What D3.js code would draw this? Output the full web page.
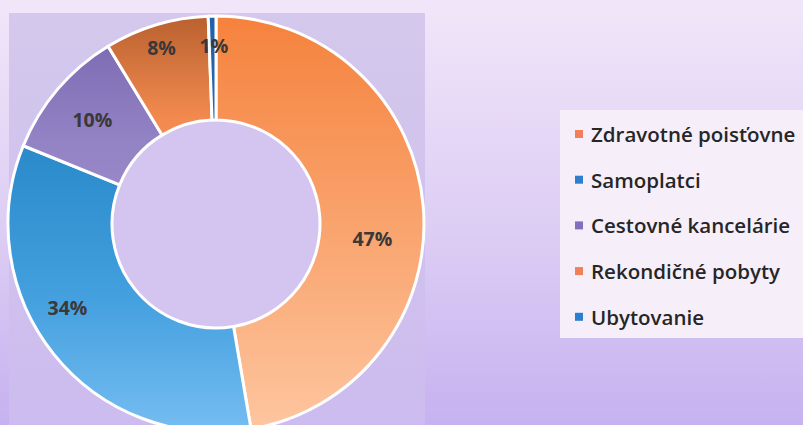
<!DOCTYPE html>
<html><head><meta charset="utf-8">
<script src="https://cdn.jsdelivr.net/npm/d3@7"></script>
<style>body{margin:0;padding:0;overflow:hidden}svg{display:block}</style>
</head><body>
<svg id="chart" width="803" height="425"></svg>
<script>
const categories = ["Zdravotné poisťovne","Samoplatci","Cestovné kancelárie","Rekondičné pobyty","Ubytovanie"];
const values = [47.4, 33.9, 10.2, 8.1, 0.6];
const sliceStops = [
  [[0,"#f5823d"],[0.5,"#f9a36d"],[1,"#fec6a0"]],
  [[0,"#1f7cc0"],[0.35,"#2c8ccc"],[0.68,"#44a0de"],[1,"#76bdf2"]],
  [[0,"#7866ae"],[0.3,"#9382c4"],[1,"#b9aae0"]],
  [[0,"#b9612f"],[0.25,"#f38b50"],[1,"#fca264"]],
  [[0,"#2260ab"],[1,"#3a7cc6"]]
];
const legendColors = ["#f07f5c","#2b7ed0","#7f6fbf","#f07f5c","#2b7ed0"];
const labelNudge = [[-8,28],[-20,-20],[2,2],[-7,-18],[1,-14]];

const svg = d3.select("#chart");
const W = 803, H = 425;
const cx = 216, cy = 224, R = 208, r = 104;
const defs = svg.append("defs");

const bg = defs.append("linearGradient").attr("id","bg").attr("x1",0).attr("y1",0).attr("x2",0).attr("y2",1);
bg.append("stop").attr("offset","0%").attr("stop-color","#f1e6f9");
bg.append("stop").attr("offset","55%").attr("stop-color","#dccdf4");
bg.append("stop").attr("offset","100%").attr("stop-color","#c6b2f0");
svg.append("rect").attr("width",W).attr("height",H).attr("fill","url(#bg)");

const pa = defs.append("linearGradient").attr("id","pa").attr("x1",0).attr("y1",0).attr("x2",0).attr("y2",1);
pa.append("stop").attr("offset","0%").attr("stop-color","#d4c8ec");
pa.append("stop").attr("offset","100%").attr("stop-color","#ccbcef");
svg.append("rect").attr("x",9).attr("y",13).attr("width",416).attr("height",H-13).attr("fill","url(#pa)");

categories.forEach((c,i)=>{
  const g = defs.append("linearGradient").attr("id","sg"+i).attr("gradientUnits","userSpaceOnUse")
    .attr("x1",0).attr("y1",-R).attr("x2",0).attr("y2",R);
  sliceStops[i].forEach(s=>g.append("stop").attr("offset",s[0]).attr("stop-color",s[1]));
});

const pie = d3.pie().sort(null).value(d=>d)(values);
const total = d3.sum(values);
const arc = d3.arc().innerRadius(r).outerRadius(R);
const labelArc = d3.arc().innerRadius(165).outerRadius(165);

const g = svg.append("g").attr("transform",`translate(${cx},${cy})`);
g.append("circle").attr("r",r).attr("fill","#d3c4f0");
g.selectAll("path.slice").data(pie).join("path").attr("class","slice")
  .attr("d",arc).attr("fill",(d,i)=>`url(#sg${i})`)
  .attr("stroke","#ffffff").attr("stroke-width",3).attr("stroke-linejoin","round");

g.selectAll("text.lbl").data(pie).join("text").attr("class","lbl")
  .attr("transform",(d,i)=>{const c=labelArc.centroid(d);return `translate(${c[0]+labelNudge[i][0]},${c[1]+labelNudge[i][1]})`;})
  .attr("text-anchor","middle").attr("dominant-baseline","central")
  .style("font-family","'Open Sans', Lato, sans-serif").style("font-weight","700").style("font-size","19.5px")
  .attr("fill","#3a3838")
  .text(d=>Math.round(d.value/total*100)+"%");

// legend
const lg = svg.append("g");
lg.append("rect").attr("x",560).attr("y",110).attr("width",250).attr("height",228).attr("fill","#f6eff9");
const items = lg.selectAll("g.item").data(categories).join("g").attr("class","item")
  .attr("transform",(d,i)=>`translate(575,${134+i*45.7})`);
items.append("rect").attr("x",0).attr("y",-4).attr("width",8).attr("height",8).attr("fill",(d,i)=>legendColors[i]);
items.append("text").attr("x",16).attr("y",0).attr("dominant-baseline","central")
  .style("font-family","'Open Sans', Lato, sans-serif").style("font-weight","600").style("font-size","20.5px").attr("fill","#262626")
  .text(d=>d);
</script>
</body></html>
